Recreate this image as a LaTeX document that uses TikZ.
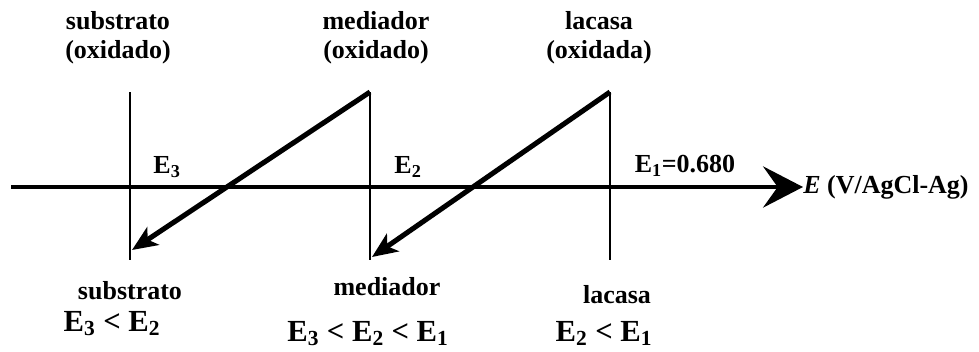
\documentclass[tikz,border=0pt]{standalone}
\usepackage{fontspec}
\setmainfont{Liberation Serif}
\usetikzlibrary{arrows.meta}

\begin{document}
\begin{tikzpicture}[x=0.75pt, y=-0.75pt,
  every node/.style={font=\fontsize{19.5}{21.75}\selectfont\bfseries, inner sep=0pt},
  species/.style={align=center},
  potlabel/.style={font=\fontsize{23}{27}\selectfont\bfseries, anchor=base},
  level/.style={line width=0.9pt},
  transfer/.style={line width=3.8pt, -{Stealth[length=19pt, width=16pt, inset=5pt]}},
  axis/.style={line width=2.3pt, -{Stealth[length=30pt, width=31pt, inset=11pt]}}]
\useasboundingbox (0,0) rectangle (979,351);

% ---- potential axis ----
\coordinate (axL) at (11,187);
\node[anchor=west] (axlab) at (803,187) {\textit{E} (V/AgCl-Ag)};
\draw[axis] (axL) -- (axlab.west);

% ---- redox levels (vertical lines) ----
\coordinate (subT) at (130,92);  \coordinate (subB) at (130,260);
\coordinate (medT) at (370,92);  \coordinate (medB) at (370,260);
\coordinate (lacT) at (610,92);  \coordinate (lacB) at (610,260);
\draw[level] (subT) -- (subB);
\draw[level] (medT) -- (medB);
\draw[level] (lacT) -- (lacB);

% ---- electron transfer arrows ----
\coordinate (subTip) at (132,250);
\coordinate (medTip) at (372,257);
\draw[transfer] (medT) -- (subTip);
\draw[transfer] (lacT) -- (medTip);

% ---- potentials on the axis ----
\node (e3) at (167,167) {E\textsubscript{3}};
\node (e2) at (408,167) {E\textsubscript{2}};
\node (e1) at (685,166) {E\textsubscript{1}=0.680};

% ---- oxidised species (top) ----
\node[species] (subOx) at (118,38) {substrato\\(oxidado)};
\node[species] (medOx) at (376,38) {mediador\\(oxidado)};
\node[species] (lacOx) at (599,38) {lacasa\\(oxidada)};

% ---- reduced species (bottom) ----
\node (subRed) at (130,291) {substrato};
\node (medRed) at (387,287) {mediador};
\node (lacRed) at (617,295) {lacasa};
\node[potlabel] (subCmp) at (112,331) {E\textsubscript{3} < E\textsubscript{2}};
\node[potlabel] (medCmp) at (368,341) {E\textsubscript{3} < E\textsubscript{2} < E\textsubscript{1}};
\node[potlabel] (lacCmp) at (604,341) {E\textsubscript{2} < E\textsubscript{1}};
\end{tikzpicture}
\end{document}
